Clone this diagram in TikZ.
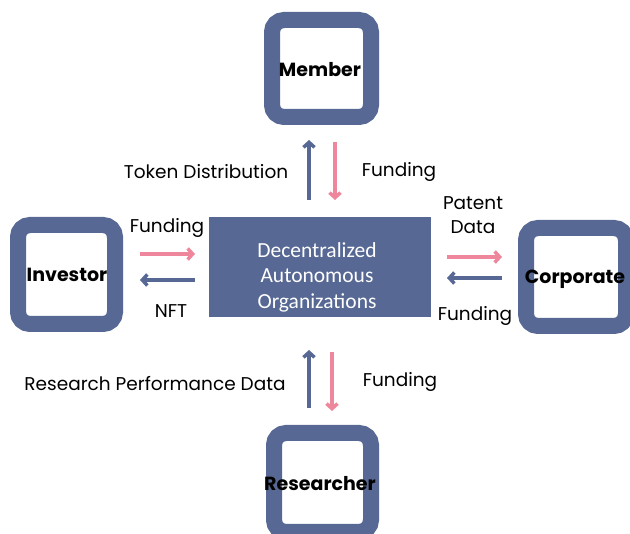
\documentclass[tikz,border=0pt]{standalone}
\usepackage{fontspec}
\setmainfont{Poppins}
\newfontfamily\daofont{Carlito}
\usetikzlibrary{arrows.meta}
\definecolor{daoblue}{RGB}{86,104,147}
\definecolor{flowpink}{RGB}{238,135,155}
\tikzset{
  party/.style={draw=daoblue, fill=white, line width=16pt, rounded corners=12pt,
    inner sep=0pt},
  partyname/.style={inner sep=0pt, font=\bfseries\fontsize{19}{22}\selectfont},
  hub/.style={fill=daoblue, inner sep=0pt, minimum width=222pt, minimum height=100pt},
  hubtext/.style={inner sep=0pt, text=white, align=center,
    font=\daofont\fontsize{21.5}{25.5}\selectfont},
  flow/.style={line width=3.5pt, -{Straight Barb[length=5pt,width=11pt]}},
  pinkflow/.style={flow, draw=flowpink},
  blueflow/.style={flow, draw=daoblue},
  lbl/.style={inner sep=0pt, font=\fontsize{18.5}{24}\selectfont, align=center}
}
\begin{document}
\begin{tikzpicture}[x=1pt, y=-1pt]
  \useasboundingbox (0,0) rectangle (630,534);

  % participants around the organization
  \node[party, minimum width=99pt, minimum height=97pt] (member) at (321.5,68.5) {};
  \node[party, minimum width=97pt, minimum height=99pt] (investor) at (66.5,274.5) {};
  \node[party, minimum width=100pt, minimum height=98pt] (corporate) at (576,277) {};
  \node[party, minimum width=97pt, minimum height=99pt] (researcher) at (322.5,482.5) {};
  \node[partyname] (memberName) at (320,70) {Member};
  \node[partyname] (investorName) at (67,275) {Investor};
  \node[partyname] (corporateName) at (575,279) {Corporate};
  \node[partyname] (researcherName) at (320,484) {Researcher};

  % central organization
  \node[hub] (dao) at (320,267) {};
  \node[hubtext] (daoName) at (317,277) {Decentralized\\Autonomous\\ Organizations};

  % end points of the flows
  \coordinate (mUpS) at (309,200);   \coordinate (mUpE) at (309,140);
  \coordinate (mDnS) at (335,142);   \coordinate (mDnE) at (335,200);
  \coordinate (iInS) at (140,254);   \coordinate (iInE) at (195,254);
  \coordinate (iOutS) at (195,280);  \coordinate (iOutE) at (140,280);
  \coordinate (cOutS) at (447,257);  \coordinate (cOutE) at (502,257);
  \coordinate (cInS) at (502,278);   \coordinate (cInE) at (447,278);
  \coordinate (rUpS) at (309,408);   \coordinate (rUpE) at (309,350);
  \coordinate (rDnS) at (332,352);   \coordinate (rDnE) at (332,411);

  \draw[blueflow] (mUpS) -- (mUpE);
  \draw[pinkflow] (mDnS) -- (mDnE);
  \draw[pinkflow] (iInS) -- (iInE);
  \draw[blueflow] (iOutS) -- (iOutE);
  \draw[pinkflow] (cOutS) -- (cOutE);
  \draw[blueflow] (cInS) -- (cInE);
  \draw[blueflow] (rUpS) -- (rUpE);
  \draw[pinkflow] (rDnS) -- (rDnE);

  % flow labels
  \node[lbl] (tokenLbl) at (206,172) {Token Distribution};
  \node[lbl] (mFundLbl) at (399,172) {Funding};
  \node[lbl] (iFundLbl) at (167,228) {Funding};
  \node[lbl] (nftLbl) at (171,311) {NFT};
  \node[lbl] (patentLbl) at (473,215) {Patent\\Data};
  \node[lbl] (cFundLbl) at (475,316) {Funding};
  \node[lbl] (perfLbl) at (155,384) {Research Performance Data};
  \node[lbl] (rFundLbl) at (400,382) {Funding};
\end{tikzpicture}
\end{document}
